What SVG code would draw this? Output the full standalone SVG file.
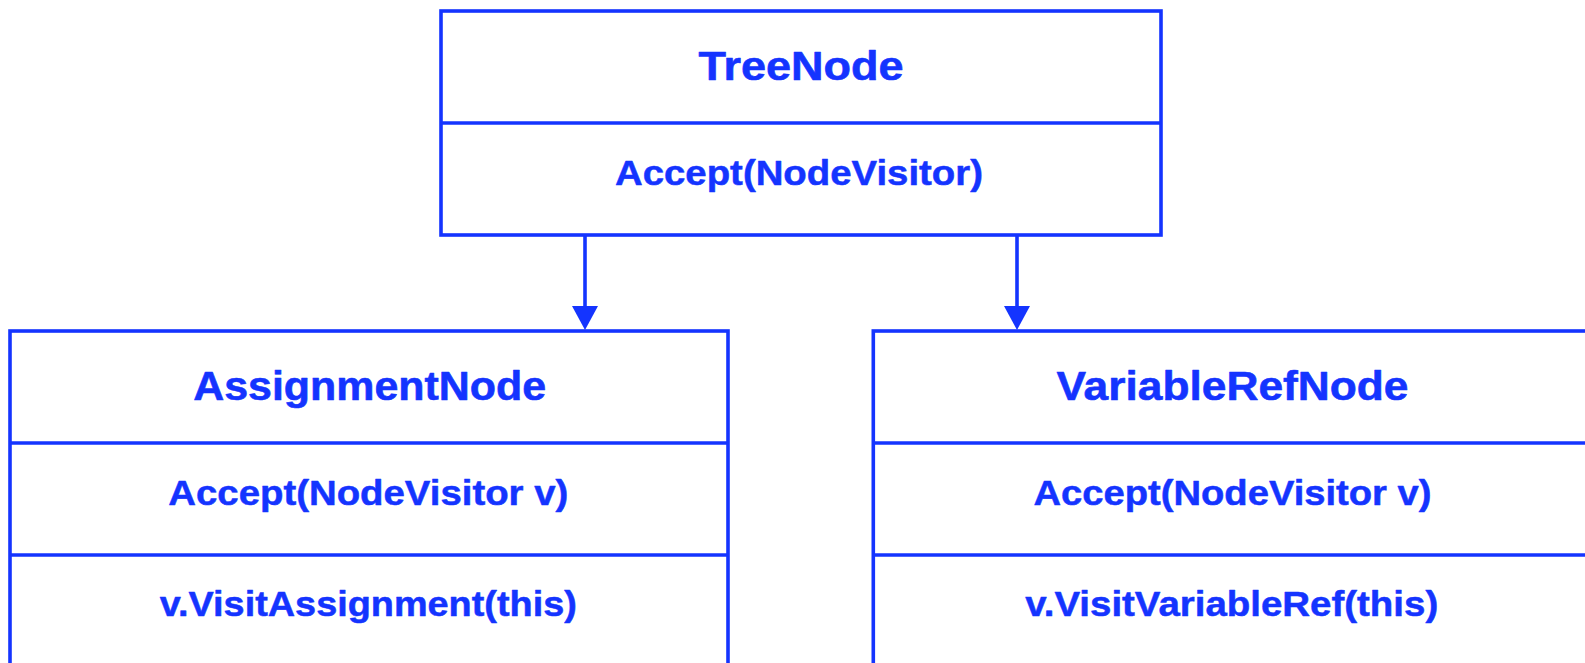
<svg xmlns="http://www.w3.org/2000/svg" width="1585" height="663" viewBox="0 0 1585 663">
  <style>
    .box { fill: #ffffff; stroke: #1434ff; stroke-width: 3.6; }
    .div { stroke: #1434ff; stroke-width: 3.6; fill: none; }
    .edge { stroke: #1434ff; stroke-width: 3.6; fill: none; }
    .title { font-family: "Liberation Sans", Arial, sans-serif; font-weight: bold; font-size: 41px; fill: #1434ff; stroke: #1434ff; stroke-width: 0.6; stroke-linejoin: round; text-anchor: middle; }
    .method { font-family: "Liberation Sans", Arial, sans-serif; font-weight: bold; font-size: 35px; fill: #1434ff; stroke: #1434ff; stroke-width: 0.5; stroke-linejoin: round; text-anchor: middle; }
  </style>
  <defs>
    <marker id="arrow" markerUnits="userSpaceOnUse" viewBox="0 0 24 26" refX="0" refY="13" markerWidth="24" markerHeight="26" orient="auto">
      <path d="M0,0 L24,13 L0,26 z" fill="#1434ff"/>
    </marker>
  </defs>
  <rect width="1585" height="663" fill="#ffffff"/>

  <g id="connectors">
    <path class="edge" d="M585,235 V306" marker-end="url(#arrow)"/>
    <path class="edge" d="M1017,235 V306" marker-end="url(#arrow)"/>
  </g>

  <g id="TreeNode">
    <rect class="box" x="441" y="11" width="720" height="224"/>
    <line class="div" x1="441" y1="123" x2="1161" y2="123"/>
    <text class="title" x="801" y="80" textLength="205" lengthAdjust="spacingAndGlyphs">TreeNode</text>
    <text class="method" x="799" y="185" textLength="368" lengthAdjust="spacingAndGlyphs">Accept(NodeVisitor)</text>
  </g>

  <g id="AssignmentNode">
    <rect class="box" x="10" y="331" width="718" height="336"/>
    <line class="div" x1="10" y1="443" x2="728" y2="443"/>
    <line class="div" x1="10" y1="555" x2="728" y2="555"/>
    <text class="title" x="369.7" y="399.5" textLength="353" lengthAdjust="spacingAndGlyphs">AssignmentNode</text>
    <text class="method" x="368.3" y="505" textLength="400" lengthAdjust="spacingAndGlyphs">Accept(NodeVisitor v)</text>
    <text class="method" x="368.3" y="615.5" textLength="417" lengthAdjust="spacingAndGlyphs">v.VisitAssignment(this)</text>
  </g>

  <g id="VariableRefNode">
    <rect class="box" x="873.3" y="331" width="718" height="336"/>
    <line class="div" x1="873.3" y1="443" x2="1591.3" y2="443"/>
    <line class="div" x1="873.3" y1="555" x2="1591.3" y2="555"/>
    <text class="title" x="1232.5" y="399.5" textLength="352" lengthAdjust="spacingAndGlyphs">VariableRefNode</text>
    <text class="method" x="1232.5" y="505" textLength="398" lengthAdjust="spacingAndGlyphs">Accept(NodeVisitor v)</text>
    <text class="method" x="1231.7" y="615.5" textLength="413" lengthAdjust="spacingAndGlyphs">v.VisitVariableRef(this)</text>
  </g>
</svg>
